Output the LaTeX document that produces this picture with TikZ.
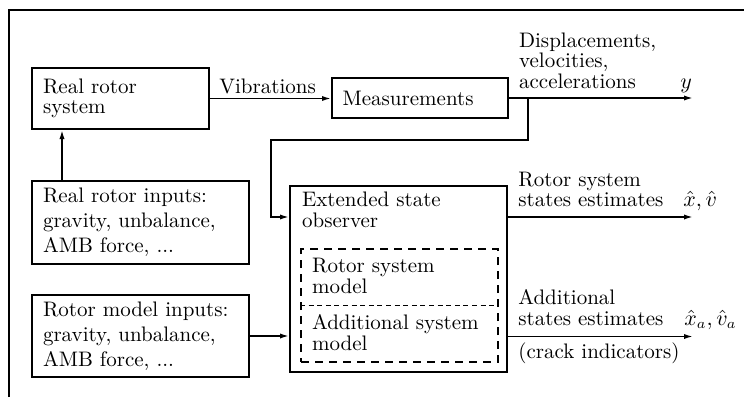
\documentclass[tikz,border=0pt]{standalone}
\usetikzlibrary{arrows.meta}
\begin{document}
\begin{tikzpicture}[x=0.5pt,y=-0.5pt,
  font=\fontsize{10.5}{10.25}\selectfont,
  box/.style={draw, line width=1pt, inner sep=0pt, align=left},
  ibox/.style={minimum width=108.5pt, text width=97.5pt, inner xsep=5.5pt, font=\fontsize{10.5}{12.5}\selectfont},
  lbl/.style={inner sep=0pt, anchor=base west, align=left},
  conn/.style={line width=0.8pt, -{Latex[length=4.5pt,width=2.6pt]}}]
\useasboundingbox (0,0) rectangle (744,397);
% frame
\draw[line width=1.2pt] (9,397) -- (9,10) -- (744,10);
% boxes
\node[box, minimum width=88.5pt, minimum height=30.5pt, text width=77.5pt, inner xsep=5.5pt] (rrs) at (120.5,98.5) {Real rotor\\system};
\node[box, minimum width=88pt, minimum height=20pt, text width=77.4pt, inner xsep=5.3pt] (meas) at (420,98) {Measurements};
\node[box, ibox, minimum height=41.5pt] (rri) at (140.5,222.5) {Real rotor inputs:\\gravity, unbalance,\\AMB force, ...};
\node[box, ibox, minimum height=41pt] (rmi) at (140.5,336) {Rotor model inputs:\\gravity, unbalance,\\AMB force, ...};
\node[box, minimum width=108.5pt, minimum height=93pt] (obs) at (398.5,279) {};
\node[draw, line width=1pt, dash pattern=on 4pt off 3pt, minimum width=98.5pt, minimum height=56.5pt, inner sep=0pt] (inner) at (399.5,305.5) {};
\draw[line width=0.8pt, dash pattern=on 2.5pt off 1.8pt] (inner.west) -- (inner.east);
% texts (anchor = baseline of last line)
\node[lbl] (obst) at (301.7,227) {Extended state\\observer};
\node[lbl] (rsm) at (311.7,293.3) {Rotor system\\model};
\node[lbl] (asm) at (311.7,350) {Additional system\\model};
\node[lbl] (vib) at (219,93) {Vibrations};
\node[lbl] (dva) at (518.7,88) {Displacements,\\velocities,\\accelerations};
\node[lbl] (yl) at (680,88) {$y$};
\node[lbl] (rse) at (518,206.7) {Rotor system\\states estimates};
\node[lbl] (xv) at (683,206.7) {$\hat{x},\hat{v}$};
\node[lbl] (ase) at (518,325) {Additional\\states estimates};
\node[lbl] (xva) at (684,325) {$\hat{x}_a,\hat{v}_a$};
\node[lbl] (ci) at (518,358) {(crack indicators)};
% coordinates
\coordinate (yend) at (693,98);
\coordinate (fb) at (528,98);
\coordinate (fbc) at (271,140);
\coordinate (fbin) at (271,217);
\coordinate (e1) at (693,217);
\coordinate (e2) at (693,336.5);
\path (rri.north west) ++(31,0) coordinate (a1);
% connectors
\draw[conn] (rrs.east) -- (rrs.east -| meas.west);
\draw[conn] (meas.east) -- (yend);
\draw[conn] (fb) |- (fbc) |- (fbin -| obs.west);
\draw[conn] (e1 -| obs.east) -- (e1);
\draw[conn] (e2 -| obs.east) -- (e2);
\draw[conn] (rmi.east) -- (rmi.east -| obs.west);
\draw[conn] (a1) -- (a1 |- rrs.south);
\end{tikzpicture}
\end{document}
